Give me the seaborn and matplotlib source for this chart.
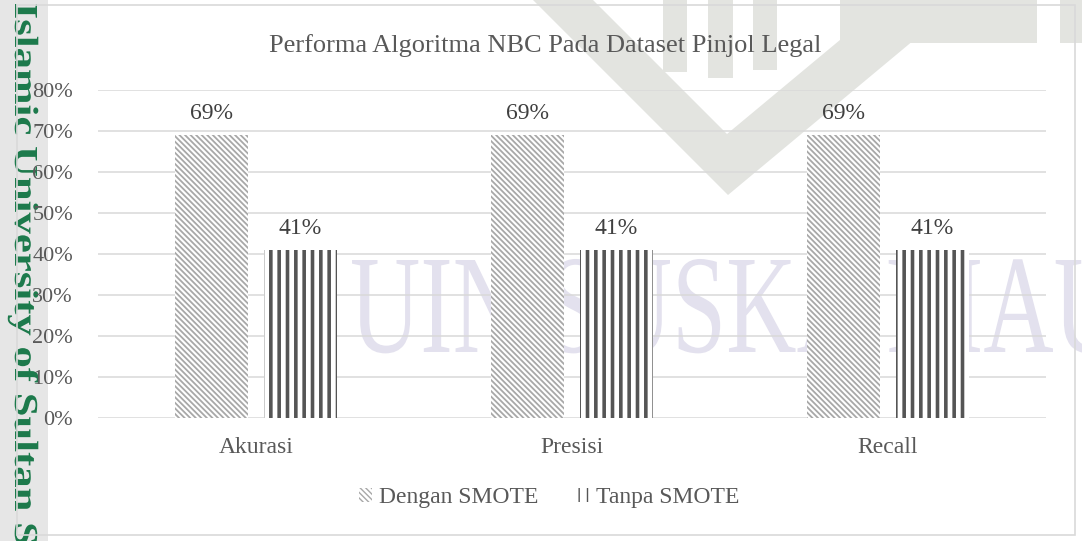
import matplotlib
matplotlib.use("Agg")
import numpy as np
import pandas as pd
import seaborn as sns
import matplotlib.pyplot as plt
from matplotlib.patches import Patch, Rectangle, Polygon, PathPatch
from matplotlib.textpath import TextPath
from matplotlib.font_manager import FontProperties
from matplotlib.transforms import Affine2D

# ---------------- data ----------------
categories = ["Akurasi", "Presisi", "Recall"]
series = ["Dengan SMOTE", "Tanpa SMOTE"]
dengan_smote = [0.69, 0.69, 0.69]
tanpa_smote = [0.41, 0.41, 0.41]
y_ticks = [0.0, 0.1, 0.2, 0.3, 0.4, 0.5, 0.6, 0.7, 0.8]
y_tick_labels = ["0%", "10%", "20%", "30%", "40%", "50%", "60%", "70%", "80%"]
title = "Performa Algoritma NBC Pada Dataset Pinjol Legal"
side_mark = "Islamic University of Sultan S"
water_mark = "UIN SUSKA RIAU"

# ---------------- style ----------------
W, H = 1082, 541
sns.set_theme(style="white")
plt.rcParams["font.family"] = ["Liberation Serif", "DejaVu Serif"]
TXT = "#595959"

fig = plt.figure(figsize=(W / 100, H / 100), dpi=100, facecolor="white")
to_fig = Affine2D().scale(1 / W, 1 / H) + fig.transFigure


def add_text_path(text, bold, x0, base_top, length, cap, rotate, color, z):
    fp = FontProperties(family="Liberation Serif", weight="bold" if bold else "normal")
    tp = TextPath((0, 0), text, size=1, prop=fp)
    bb = tp.get_extents()
    capref = TextPath((0, 0), "I", size=1, prop=fp).get_extents().height
    sx = length / bb.width
    sy = cap / capref
    t = Affine2D().translate(-bb.x0, 0).scale(sx, sy)
    if rotate:
        t = t.rotate_deg(-90)
    t = t.translate(x0, H - base_top)
    fig.add_artist(PathPatch(tp, facecolor=color, edgecolor="none", lw=0,
                             zorder=z, transform=t + to_fig))


# ---------------- background decorations (document watermark) ----------------
fig.add_artist(Rectangle((0, 0), 48, H, facecolor="#e6e6e6", edgecolor="none",
                         zorder=-5, transform=to_fig))
logo = "#e3e4e0"
for poly in (
    [(533, 0), (728, 195), (962, 0), (888, 0), (727, 134), (593, 0)],
    [(663, 0), (687, 0), (687, 72), (663, 72)],
    [(708, 0), (733, 0), (733, 78), (708, 78)],
    [(753, 0), (777, 0), (777, 70), (753, 70)],
    [(840, 0), (1037, 0), (1037, 43), (840, 43)],
    [(1060, 0), (1082, 0), (1082, 43), (1060, 43)],
):
    fig.add_artist(Polygon([(x, H - y) for x, y in poly], closed=True,
                           facecolor=logo, edgecolor="none", zorder=-4,
                           transform=to_fig))
add_text_path(water_mark, False, 352, 352, 770, 92, False, "#e3e1ee", -3)
add_text_path(side_mark, True, 15, 4, 540, 22, True, "#1d7a4c", -2)

# chart border
fig.add_artist(Rectangle((17, H - 535), 1075 - 17, 535 - 5, fill=False,
                         edgecolor="#d9d9d9", lw=1.2, zorder=-1, transform=to_fig))

# ---------------- chart ----------------
ax = fig.add_axes([98 / W, (H - 418) / H, 948 / W, 328 / H])
ax.set_facecolor("none")

df = pd.DataFrame({
    "Kategori": categories * 2,
    "Seri": [series[0]] * len(categories) + [series[1]] * len(categories),
    "Nilai": dengan_smote + tanpa_smote,
})

sns.barplot(data=df, x="Kategori", y="Nilai", hue="Seri", order=categories,
            hue_order=series, palette=["white", "white"], width=0.563, gap=0.19,
            ax=ax, legend=False, linewidth=0, zorder=3, errorbar=None)

styles = [
    dict(hatch="\\\\\\\\\\\\", color="#a8a8a8", hlw=1.3),
    dict(hatch="||", color="#555555", hlw=2.6),
]
for cont, st, vals in zip(ax.containers, styles, [dengan_smote, tanpa_smote]):
    for p in cont:
        p.set_hatch(st["hatch"])
        p.set_edgecolor(st["color"])
        p.set_linewidth(0)
        if hasattr(p, "set_hatch_linewidth"):
            p.set_hatch_linewidth(st["hlw"])
    ax.bar_label(cont, labels=[f"{v * 100:.0f}%" for v in vals], padding=8,
                 fontsize=17, color="#404040")

ax.set_ylim(0, 0.8)
ax.set_xlim(-0.5, len(categories) - 0.5)
ax.set_yticks(y_ticks)
ax.set_yticklabels(y_tick_labels)
ax.set_xlabel("")
ax.set_ylabel("")
ax.tick_params(axis="y", length=0, pad=18, labelsize=16, labelcolor=TXT)
ax.tick_params(axis="x", length=0, pad=14, labelsize=17, labelcolor=TXT)
ax.yaxis.grid(True, color="#d9d9d9", lw=1.1, zorder=0)
ax.set_axisbelow(True)
for s in ax.spines.values():
    s.set_visible(False)

fig.text(545 / W, 1 - 52 / H, title, ha="center", va="baseline", fontsize=19,
         color=TXT)

handles = [Patch(facecolor="white", edgecolor=st["color"], hatch=st["hatch"], lw=0)
           for st in styles]
fig.legend(handles, series, loc="center", bbox_to_anchor=(549 / W, 1 - 498 / H),
           ncol=2, frameon=False, fontsize=17, handlelength=0.55, handleheight=0.55,
           columnspacing=1.6, handletextpad=0.3, labelcolor=TXT)

fig.savefig("out.png", dpi=100, facecolor="white")
